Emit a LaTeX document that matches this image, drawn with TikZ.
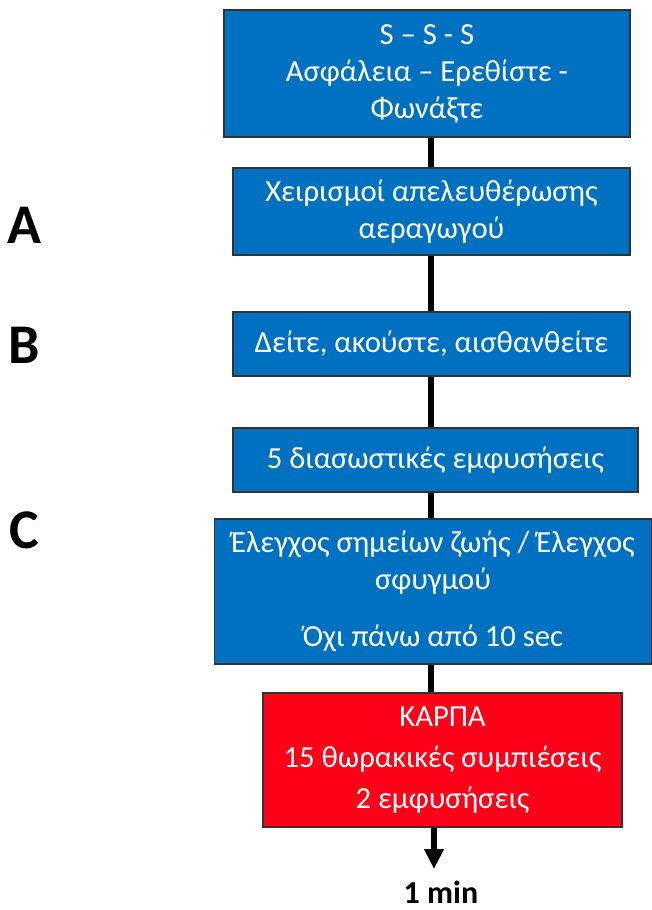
\documentclass[tikz,border=0pt]{standalone}
\usepackage{fontspec}
\setmainfont{Carlito}
\usetikzlibrary{arrows.meta}

\definecolor{stepblue}{RGB}{0,112,192}
\definecolor{stepred}{RGB}{255,0,25}

\begin{document}
\begin{tikzpicture}[x=0.75pt,y=-0.75pt,
    stepbox/.style={draw=black!80,line width=1.1pt,fill=stepblue,text=white,
        align=center,inner sep=0pt,font=\fontsize{23}{27.75}\selectfont},
    redbox/.style={stepbox,fill=stepred,font=\fontsize{23}{30.5}\selectfont},
    letter/.style={font=\bfseries\fontsize{42}{50}\selectfont},
    link/.style={line width=4.2pt}
]

\useasboundingbox (0,0) rectangle (652,910);

% Spine of the flow
\coordinate (spine) at (431,0);

% Boxes
\node[stepbox,minimum width=304.5pt,minimum height=95.25pt] (sss) at (427,73.5)
    {S – S - S\\Ασφάλεια – Ερεθίστε -\\Φωνάξτε};
\node[stepbox,minimum width=297.75pt,minimum height=65.25pt] (airway) at (431.5,211.5)
    {Χειρισμοί απελευθέρωσης\\αεραγωγού};
\node[stepbox,minimum width=297.75pt,minimum height=48pt] (look) at (431.5,344)
    {Δείτε, ακούστε, αισθανθείτε};
\node[stepbox,minimum width=303.75pt,minimum height=48pt] (breaths) at (435.5,460)
    {\raisebox{-5pt}{5 διασωστικές εμφυσήσεις}};
\node[stepbox,minimum width=327.75pt,minimum height=108.75pt] (signs) at (433,591.5)
    {Έλεγχος σημείων ζωής / Έλεγχος\\σφυγμού\\[15pt]Όχι πάνω από 10 sec};
\node[redbox,minimum width=269.25pt,minimum height=100.5pt] (cpr) at (442.5,760)
    {ΚΑΡΠΑ\\15 θωρακικές συμπιέσεις\\2 εμφυσήσεις};

% Links
\draw[link] (sss.south -| spine) -- (airway.north -| spine);
\draw[link] (airway.south -| spine) -- (look.north -| spine);
\draw[link] (look.south -| spine) -- (breaths.north -| spine);
\draw[link] (breaths.south -| spine) -- (signs.north -| spine);
\draw[link] (signs.south -| spine) -- (cpr.north -| spine);

% Arrow to time
\coordinate (stop) at (434,869);
\draw[link,-{Triangle[length=15pt,width=14pt]}] (cpr.south -| stop) -- (stop);
\node[font=\bfseries\fontsize{24}{28}\selectfont,inner sep=0pt,anchor=base] (time) at (441,903) {1 min};

% Letters
\node[letter] (la) at (24,225) {A};
\node[letter] (lb) at (24,345) {B};
\node[letter] (lc) at (24,530) {C};

\end{tikzpicture}
\end{document}
